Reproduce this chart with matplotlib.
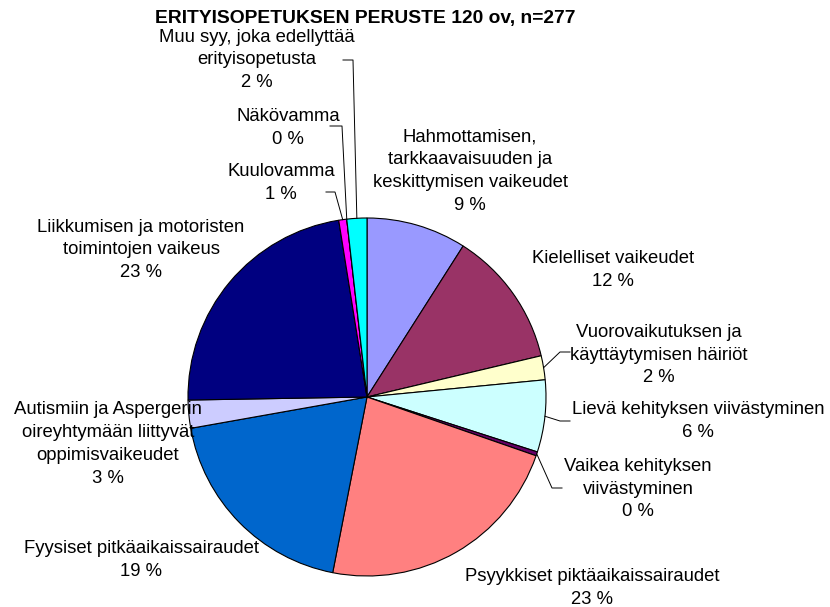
import numpy as np
import matplotlib.pyplot as plt

plt.rcParams['font.family'] = ['Liberation Sans', 'DejaVu Sans']

# data: pupils by main reason for special education (n=277)
categories = [
    "Hahmottamisen,\ntarkkaavaisuuden ja\nkeskittymisen vaikeudet",
    "Kielelliset vaikeudet",
    "Vuorovaikutuksen ja\nkäyttäytymisen häiriöt",
    "Lievä kehityksen viivästyminen",
    "Vaikea kehityksen\nviivästyminen",
    "Psyykkiset piktäaikaissairaudet",
    "Fyysiset pitkäaikaissairaudet",
    "Autismiin ja Aspergerin\noireyhtymään liittyvät\noppimisvaikeudet",
    "Liikkumisen ja motoristen\ntoimintojen vaikeus",
    "Kuulovamma",
    "Näkövamma",
    "Muu syy, joka edellyttää\nerityisopetusta",
]
counts = [25, 34, 6, 18, 1, 63, 53, 7, 63, 2, 0, 5]
colors = ["#9999FF", "#993366", "#FFFFCC", "#CCFFFF", "#660066", "#FF8080",
          "#0066CC", "#CCCCFF", "#000080", "#FF00FF", "#FFFF00", "#00FFFF"]
title = "ERITYISOPETUKSEN PERUSTE 120 ov, n=277"

W, H = 830, 607
# label centres in image pixels (x, y from top)
label_pos = [(470, 171), (613, 270), (659, 355), (698, 421), (638, 489),
             (592, 588), (141, 560), (108, 444), (141, 250), (281, 183),
             (288, 128), (257, 60)]
# leader lines: start points near the label (image pixels)
leader_start = {2: [(570, 352), (560, 352)],
                3: [(570, 421), (560, 421)],
                4: [(562, 488), (552, 488)],
                9: [(326, 192), (335, 192)],
                10: [(330, 126), (342, 126)],
                11: [(343, 60), (353, 60)]}

cx, cy, r = 367, 397, 179


def py(y):
    return H - y


fig = plt.figure(figsize=(W / 100, H / 100), dpi=100)
ax = fig.add_axes([0, 0, 1, 1])

ax.pie(counts, colors=colors, startangle=90, counterclock=False,
       center=(cx, py(cy)), radius=r,
       wedgeprops=dict(edgecolor='black', linewidth=0.8))
ax.set_xlim(0, W)
ax.set_ylim(0, H)
ax.set_aspect('equal')
ax.axis('off')

n = sum(counts)
cum = np.cumsum(counts)
for i, (lab, v) in enumerate(zip(categories, counts)):
    pct = round(v / n * 100)
    x, y = label_pos[i]
    ax.text(x, py(y), f"{lab}\n{pct} %", ha='center', va='center',
            fontsize=13.3, linespacing=1.45)
    if i in leader_start:
        mid = cum[i] - v / 2
        ang = np.deg2rad(90 - 360 * mid / n)
        ex = cx + r * np.cos(ang)
        ey = py(cy) + r * np.sin(ang)
        pts = leader_start[i]
        xs = [p[0] for p in pts] + [ex]
        ys = [py(p[1]) for p in pts] + [ey]
        ax.plot(xs, ys, color='black', linewidth=0.7)

ax.text(365, py(18), title, ha='center', va='center',
        fontsize=13.9, fontweight='bold')

fig.savefig("out.png", dpi=100)
